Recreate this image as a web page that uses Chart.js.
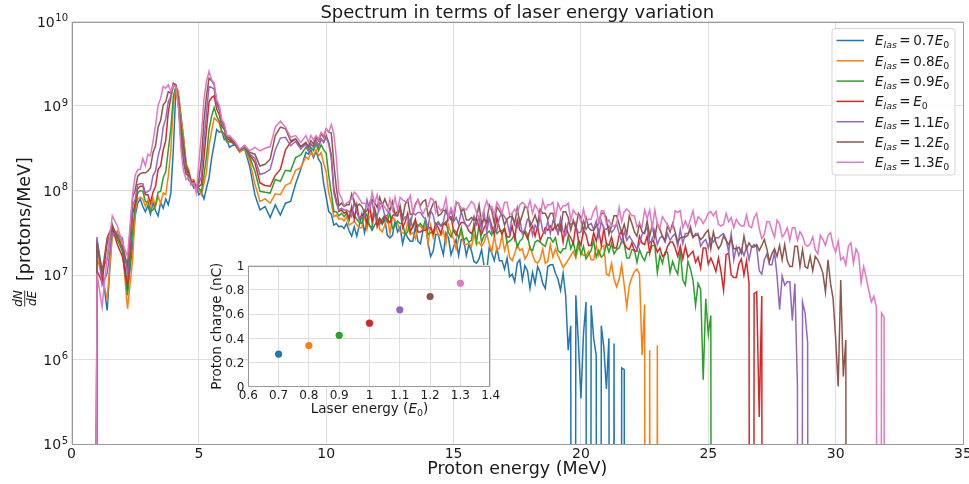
<!DOCTYPE html>
<html><head><meta charset="utf-8">
<script src="https://cdn.jsdelivr.net/npm/chart.js@4"></script>
<style>
html,body{margin:0;padding:0;background:#fff;}
#wrap{position:relative;width:969px;height:484px;overflow:hidden;}
#main{position:absolute;left:0;top:0;width:969px;height:484px;}
#inset{position:absolute;left:180px;top:255px;width:320px;height:165px;}
</style></head><body>
<div id="wrap"><canvas id="main" width="969" height="484"></canvas><canvas id="inset" width="320" height="165"></canvas></div>
<script>
// ---------- DATA ----------
// Proton energy bins (MeV)
const energyMeV = [
0.8,1.0,1.2,1.4,1.6,1.8,2.0,2.2,2.4,
2.5,2.6,2.7,2.8,2.9,3.0,3.1,3.2,3.3,3.4,3.5,3.6,3.7,3.8,3.9,4.0,4.1,4.2,4.3,4.4,4.5,4.6,4.7,4.8,4.9,5.0,5.1,5.2,5.3,5.4,5.5,5.6,5.7,5.8,5.9,6.0,6.1,6.2,
6.4,6.6,6.8,7.0,7.2,7.4,7.6,7.8,8.0,8.2,8.4,8.6,8.8,9.0,9.2,
9.3,9.4,9.5,9.6,9.7,9.8,9.9,10.0,10.1,10.2,10.3,10.4,10.5,10.6,10.7,10.8,10.9,
11.0,11.1,11.2,11.3,11.4,11.5,11.6,11.7,11.8,11.9,
12.0,12.1,12.2,12.3,12.4,12.5,12.6,12.7,12.8,12.9,
13.0,13.1,13.2,13.3,13.4,13.5,13.6,13.7,13.8,13.9,
14.0,14.1,14.2,14.3,14.4,14.5,14.6,14.7,14.8,14.9,
15.0,15.1,15.2,15.3,15.4,15.5,15.6,15.7,15.8,15.9,
16.0,16.1,16.2,16.3,16.4,16.5,16.6,16.7,16.8,16.9,
17.0,17.1,17.2,17.3,17.4,17.5,17.6,17.7,17.8,17.9,
18.0,18.1,18.2,18.3,18.4,18.5,18.6,18.7,18.8,18.9,
19.0,19.1,19.2,19.3,19.4,19.5,19.6,19.7,19.8,19.9,
20.0,20.1,20.2,20.3,20.4,20.5,20.6,20.7,20.8,20.9,
21.0,21.1,21.2,21.3,21.4,21.5,21.6,21.7,21.8,21.9,
22.0,22.1,22.2,22.3,22.4,22.5,22.6,22.7,22.8,22.9,
23.0,23.1,23.2,23.3,23.4,23.5,23.6,23.7,23.8,23.9,
24.0,24.1,24.2,24.3,24.4,24.5,24.6,24.7,24.8,24.9,
25.0,25.1,25.2,25.3,25.4,25.5,25.6,25.7,25.8,25.9,
26.0,26.1,26.2,26.3,26.4,26.5,26.6,26.7,26.8,26.9,
27.0,27.1,27.2,27.3,27.4,27.5,27.6,27.7,27.8,27.9,
28.0,28.1,28.2,28.3,28.4,28.5,28.6,28.7,28.8,28.9,
29.0,29.1,29.2,29.3,29.4,29.5,29.6,29.7,29.8,29.9,
30.0,30.1,30.2,30.3,30.4,30.5,30.6,30.7,30.8,30.9,
31.0,31.1,31.2,31.3,31.4,31.5,31.6,31.7,31.8,31.9,
32.0,32.1
];

// Spectra: log10(dN/dE) x 100, one value per energy bin; 0 = no protons
const spec07 = [
0,742,705,658,752,748,738,682,735,
770,785,790,781,775,782,772,786,776,770,786,779,790,783,797,850,922,912,888,862,832,812,813,803,806,795,798,790,803,815,838,855,872,869,870,860,861,851,
855,846,849,828,795,777,781,768,783,771,785,787,808,825,845,
843,848,839,846,837,832,808,792,775,772,759,761,757,758,755,761,752,
746,757,746,759,772,750,763,759,753,759,
764,766,760,766,747,744,747,764,751,757,
737,750,744,740,740,757,740,737,753,759,
737,722,728,748,748,735,724,750,744,724,
733,742,723,742,742,723,736,729,716,714,
719,730,710,704,732,726,717,732,717,717,
707,720,698,701,692,714,718,694,711,705,
684,703,690,710,703,690,684,710,712,712,
702,695,682,702,676,611,640,0,676,620,
554,630,668,0,664,625,605,0,640,614,
565,625,0,619,0,0,590,588,0
];
const spec08 = [
0,722,698,672,745,752,730,660,718,
775,790,792,790,781,789,777,791,781,793,785,797,795,817,848,902,924,917,886,862,832,825,812,813,803,802,795,808,822,853,870,886,883,880,868,866,857,858,
855,845,850,835,808,787,790,785,796,795,806,809,824,827,840,
837,845,841,848,841,845,832,822,797,785,769,771,766,767,764,769,759,
761,764,759,756,756,771,754,769,771,776,
769,754,751,759,769,749,769,764,761,751,
750,748,763,748,750,743,758,758,753,760,
737,759,744,757,747,747,752,737,759,749,
743,731,743,751,736,736,738,733,748,736,
739,734,739,749,737,727,747,729,732,747,
729,739,721,717,725,736,729,731,719,724,
734,724,716,714,719,731,714,716,736,721,
731,723,716,709,713,718,723,728,720,733,
728,723,723,728,718,718,735,723,733,735,
701,699,714,695,686,695,712,688,662,688,
697,704,707,701,605,665,0,611,0,0,
617,0
];
const spec09 = [
0,732,708,718,760,742,728,676,752,
780,797,800,799,787,786,775,777,783,798,799,815,822,848,873,912,923,910,878,855,829,823,809,811,801,803,799,818,840,872,888,898,888,882,870,867,858,858,
856,847,851,839,823,799,798,797,813,811,824,823,839,842,851,
847,851,847,855,847,854,848,844,818,797,775,775,770,773,769,773,765,
778,771,766,762,761,776,770,758,756,778,
768,760,766,771,763,773,755,758,764,761,
761,748,751,766,756,763,758,761,756,766,
748,750,750,760,763,758,760,763,750,745,
754,751,744,756,741,744,739,741,761,739,
759,739,747,749,752,747,757,749,752,752,
755,738,740,743,748,733,740,743,753,748,
731,729,739,741,739,736,734,744,744,739,
744,729,726,731,731,746,731,739,724,741,
724,734,719,724,729,741,721,729,721,724,
737,727,737,725,730,732,740,737,720,720,
730,730,715,730,722,717,727,727,735,735,
703,723,714,727,727,703,716,707,701,729,
694,688,716,707,694,664,690,683,576,672,
630,652,0
];
const spec10 = [
0,705,692,738,756,736,722,688,772,
785,802,805,805,795,795,785,798,805,825,829,848,859,893,910,926,923,902,868,848,825,821,809,811,802,805,807,838,872,905,910,912,896,890,876,872,862,860,
855,848,853,842,833,809,806,805,818,825,848,857,861,852,855,
851,855,852,859,852,861,857,865,857,842,802,788,775,777,773,775,767,
781,766,783,766,771,773,761,783,763,778,
757,767,762,770,765,762,770,772,775,777,
756,763,773,751,758,766,751,751,753,753,
756,756,749,761,756,749,761,759,769,769,
752,747,757,762,762,759,752,749,754,767,
756,748,756,761,768,758,748,768,756,748,
755,745,745,758,743,765,753,750,750,743,
753,758,746,758,741,748,756,753,758,753,
759,749,759,739,759,749,744,737,759,742,
735,753,748,735,735,750,740,753,735,755,
737,735,745,732,732,747,752,737,732,730,
738,728,728,746,738,736,746,726,743,736,
727,732,722,724,734,739,739,732,722,734,
719,734,721,725,728,715,721,708,732,732,
713,720,713,704,720,704,682,724,726,700,
697,697,713,719,700,717,690,0,678,680,
532,675,0
];
const spec11 = [
0,745,688,702,750,748,744,700,782,
790,807,808,808,797,799,801,818,823,841,852,875,885,905,911,924,923,900,863,843,822,819,807,809,799,808,817,858,892,923,922,920,902,895,879,875,862,863,
856,847,853,843,838,819,821,825,848,862,863,853,858,849,855,
847,855,851,858,853,861,857,863,855,838,797,785,777,779,777,777,775,
769,787,774,767,769,769,789,777,789,769,
768,785,783,770,770,778,780,770,770,778,
764,769,769,759,774,771,774,774,769,766,
756,776,771,756,761,758,763,778,766,778,
763,768,760,775,765,758,758,763,770,760,
768,753,773,751,768,751,756,753,768,773,
769,764,749,771,759,756,766,749,754,766,
764,747,759,754,769,752,749,764,749,764,
760,750,767,752,747,762,760,762,757,750,
751,764,754,759,761,754,764,746,764,754,
754,758,750,754,761,749,739,751,741,746,
741,736,730,737,748,751,756,738,741,753,
736,744,746,739,749,741,746,749,734,754,
737,749,749,752,744,749,749,734,739,742,
732,744,739,744,744,747,749,742,727,749,
718,733,723,731,723,733,718,733,736,733,
705,701,718,725,712,712,727,699,659,699,
688,692,692,646,690,568,0,668,655,620,
0
];
const spec12 = [
0,738,702,744,758,746,732,712,792,
800,817,820,821,821,823,827,845,853,875,883,901,905,917,915,927,925,902,858,833,819,818,807,809,799,813,837,883,912,933,930,925,905,898,882,877,863,863,
856,848,853,845,843,829,831,837,865,875,873,859,861,852,857,
852,859,855,863,859,867,863,873,869,868,832,803,782,785,781,783,783,
796,786,781,784,781,774,776,784,789,786,
780,792,782,790,782,777,787,772,770,782,
767,784,789,772,772,784,789,782,787,789,
770,777,785,787,770,772,777,775,770,765,
765,785,785,775,778,765,765,768,765,768,
783,761,766,763,783,776,761,781,776,771,
759,766,769,769,761,779,761,771,781,779,
758,763,771,761,778,773,773,766,773,773,
755,760,753,775,775,768,753,765,755,773,
768,751,768,756,753,753,758,761,773,773,
768,748,758,770,770,760,750,760,748,770,
761,751,746,761,751,749,764,746,759,744,
761,754,746,741,759,751,761,751,739,744,
745,745,747,757,745,747,747,742,745,750,
753,731,751,738,731,736,746,741,736,743,
731,731,733,726,746,731,738,733,733,736,
729,735,742,731,716,725,731,722,735,718,
736,717,710,710,734,734,710,730,710,708,
722,705,722,718,711,702,680,718,690,672,
625,568,694,580,623,0
];
const spec13 = [
0,702,662,722,770,758,738,722,796,
818,825,825,838,829,843,841,858,877,901,909,923,921,925,917,925,923,898,847,823,813,815,807,809,797,833,867,908,929,941,931,927,907,901,884,879,865,865,
859,849,853,847,851,847,850,852,875,882,875,863,865,857,865,
857,865,860,865,861,869,865,873,869,878,867,838,797,791,782,785,787,
790,798,795,790,785,785,783,778,798,785,
795,777,785,780,775,790,777,792,777,792,
789,787,787,794,774,782,789,779,772,779,
781,791,789,774,781,776,779,791,769,779,
772,787,784,779,779,777,782,787,784,774,
768,768,778,788,778,781,771,786,781,773,
786,786,771,773,778,773,783,786,783,778,
788,773,783,778,768,788,778,783,783,786,
767,785,777,782,782,785,765,777,772,770,
763,778,763,766,766,776,781,761,776,776,
760,765,758,758,760,780,763,775,778,775,
770,770,757,761,757,777,767,777,755,777,
759,756,769,764,759,754,756,776,774,776,
756,764,756,766,776,759,769,766,761,766,
773,775,770,775,760,758,760,773,763,768,
756,766,761,758,758,771,758,756,768,773,
755,743,748,763,763,753,745,765,760,745,
749,756,741,756,756,741,751,746,736,734,
737,745,730,725,747,742,735,747,750,735,
727,740,718,721,712,734,738,714,731,725,
691,710,697,682,668,675,662,0,655,650,
0
];

// Laser energy factors (legend) and inset data
const laserFactors = ['0.7', '0.8', '0.9', '1', '1.1', '1.2', '1.3'];
const laserEnergy = [0.7, 0.8, 0.9, 1.0, 1.1, 1.2, 1.3];
const protonCharge = [0.27, 0.34, 0.425, 0.525, 0.635, 0.745, 0.855];

// Tick values
const xTickValues = [0, 5, 10, 15, 20, 25, 30, 35];
const yTickValues = [1e5, 1e6, 1e7, 1e8, 1e9, 1e10];
const insetXTicks = [0.6, 0.7, 0.8, 0.9, 1.0, 1.1, 1.2, 1.3, 1.4];
const insetXLabels = ['0.6', '0.7', '0.8', '0.9', '1', '1.1', '1.2', '1.3', '1.4'];
const insetYTicks = [0, 0.2, 0.4, 0.6, 0.8, 1.0];
const insetYLabels = ['0', '0.2', '0.4', '0.6', '0.8', '1'];

// ---------- STYLE ----------
const seriesColors = ['#1f77b4', '#ff7f0e', '#2ca02c', '#d62728', '#9467bd', '#8c564b', '#e377c2'];
const FONT = '"DejaVu Sans", sans-serif';
const TXT = '#1a1a1a';
const GRID = '#dedede';
const SPINE = '#9a9a9a';

const spectra = [spec07, spec08, spec09, spec10, spec11, spec12, spec13];

const datasets = spectra.map((vals, i) => ({
  label: laserFactors[i],
  data: vals.map((v, j) => ({ x: energyMeV[j], y: v === 0 ? 1e-20 : Math.pow(10, v / 100) })),
  borderColor: seriesColors[i],
  backgroundColor: seriesColors[i],
  borderWidth: 1.5,
  pointRadius: 0,
  fill: false,
  tension: 0,
  order: spectra.length - 1 - i
}));

// draws "E_las = fE_0" math-like text
function drawMathLabel(ctx, x, y, factor, size) {
  const sub = size * 0.7;
  const parts = [
    { t: 'E', f: 'italic ' + size + 'px ' + FONT, dy: 0 },
    { t: 'las', f: 'italic ' + sub + 'px ' + FONT, dy: size * 0.22 },
    { t: '=', f: size + 'px ' + FONT, dy: 0, gap: 2.5, gapAfter: 2.5 }
  ];
  if (factor !== '1') parts.push({ t: factor, f: size + 'px ' + FONT, dy: 0 });
  parts.push({ t: 'E', f: 'italic ' + size + 'px ' + FONT, dy: 0 });
  parts.push({ t: '0', f: sub + 'px ' + FONT, dy: size * 0.22 });
  let cx = x;
  ctx.textAlign = 'left';
  ctx.textBaseline = 'alphabetic';
  parts.forEach(p => {
    if (p.gap) cx += p.gap;
    ctx.font = p.f;
    ctx.fillText(p.t, cx, y + p.dy);
    cx += ctx.measureText(p.t).width;
    if (p.gapAfter) cx += p.gapAfter;
  });
}

const mainDeco = {
  id: 'mainDeco',
  afterDraw(chart) {
    const ctx = chart.ctx, a = chart.chartArea, xs = chart.scales.x, ys = chart.scales.y;
    ctx.save();
    // spines
    ctx.strokeStyle = SPINE; ctx.lineWidth = 1;
    ctx.strokeRect(Math.round(a.left) + 0.5, Math.round(a.top) + 0.5, Math.round(a.right - a.left) - 1, Math.round(a.bottom - a.top) - 1);
    ctx.fillStyle = TXT;
    // x tick labels
    ctx.font = '14px ' + FONT; ctx.textAlign = 'center'; ctx.textBaseline = 'alphabetic';
    xTickValues.forEach(v => ctx.fillText(String(v), xs.getPixelForValue(v), a.bottom + 13.5));
    // y tick labels 10^n
    yTickValues.forEach(v => {
      const e = String(Math.round(Math.log10(v)));
      const y = ys.getPixelForValue(v);
      const right = a.left - 3.5;
      ctx.textAlign = 'right';
      ctx.font = '10px ' + FONT;
      const ew = ctx.measureText(e).width;
      ctx.fillText(e, right, y - 0.5);
      ctx.font = '14px ' + FONT;
      ctx.fillText('10', right - ew - 0.5, y + 5);
    });
    // title
    ctx.textAlign = 'center';
    ctx.font = '18px ' + FONT;
    ctx.fillText('Spectrum in terms of laser energy variation', (a.left + a.right) / 2, 18);
    // x label
    ctx.font = '17.5px ' + FONT;
    ctx.fillText('Proton energy (MeV)', (a.left + a.right) / 2, 474);
    // y label
    ctx.save();
    ctx.translate(30, 281); ctx.rotate(-Math.PI / 2);
    ctx.textAlign = 'left'; ctx.font = '17.5px ' + FONT;
    ctx.fillText('[protons/MeV]', 0, 0);
    ctx.restore();
    ctx.save();
    ctx.rotate(-Math.PI / 2);
    ctx.textAlign = 'center'; ctx.font = 'italic 12px ' + FONT;
    ctx.fillText('dN', -298.5, 22);
    ctx.fillText('dE', -298.5, 35.5);
    ctx.fillRect(-306.5, 24.3, 16, 0.9);
    ctx.restore();
    // legend
    const lx = 832, ly = 28.5, lw = 123, lh = 146.5, r = 3;
    ctx.beginPath();
    ctx.moveTo(lx + r, ly); ctx.lineTo(lx + lw - r, ly); ctx.arcTo(lx + lw, ly, lx + lw, ly + r, r);
    ctx.lineTo(lx + lw, ly + lh - r); ctx.arcTo(lx + lw, ly + lh, lx + lw - r, ly + lh, r);
    ctx.lineTo(lx + r, ly + lh); ctx.arcTo(lx, ly + lh, lx, ly + lh - r, r);
    ctx.lineTo(lx, ly + r); ctx.arcTo(lx, ly, lx + r, ly, r); ctx.closePath();
    ctx.fillStyle = 'rgba(255,255,255,0.85)'; ctx.fill();
    ctx.strokeStyle = '#d4d4d4'; ctx.lineWidth = 1; ctx.stroke();
    laserFactors.forEach((f, i) => {
      const cy = 40.5 + i * 20.3;
      ctx.strokeStyle = seriesColors[i]; ctx.lineWidth = 1.5;
      ctx.beginPath(); ctx.moveTo(836.5, cy); ctx.lineTo(864, cy); ctx.stroke();
      ctx.fillStyle = TXT;
      drawMathLabel(ctx, 875, cy + 4.8, f, 13.5);
    });
    ctx.restore();
  }
};

new Chart(document.getElementById('main'), {
  type: 'line',
  data: { datasets },
  options: {
    responsive: false, animation: false, devicePixelRatio: 1,
    layout: { padding: { left: 71.5, right: 6, top: 21.5, bottom: 40 } },
    plugins: { legend: { display: false }, tooltip: { enabled: false } },
    scales: {
      x: {
        type: 'linear', min: 0, max: 35,
        ticks: { display: false, stepSize: 5 },
        grid: { color: GRID, lineWidth: 1, drawTicks: false },
        border: { display: false },
        afterFit: s => { s.height = 0; }
      },
      y: {
        type: 'logarithmic', min: 1e5, max: 1e10,
        ticks: { display: false },
        grid: { color: GRID, lineWidth: 1, drawTicks: false },
        border: { display: false },
        afterBuildTicks: s => { s.ticks = yTickValues.map(v => ({ value: v })); },
        afterFit: s => { s.width = 0; }
      }
    }
  },
  plugins: [mainDeco]
});

// ---------- INSET ----------
const insetBg = {
  id: 'insetBg',
  beforeDraw(chart) {
    const ctx = chart.ctx, a = chart.chartArea;
    ctx.save(); ctx.fillStyle = '#ffffff';
    ctx.fillRect(a.left, a.top, a.right - a.left, a.bottom - a.top);
    ctx.restore();
  }
};
const insetDeco = {
  id: 'insetDeco',
  afterDraw(chart) {
    const ctx = chart.ctx, a = chart.chartArea, xs = chart.scales.x, ys = chart.scales.y;
    ctx.save();
    ctx.strokeStyle = SPINE; ctx.lineWidth = 1;
    ctx.strokeRect(Math.round(a.left) + 0.5, Math.round(a.top) + 0.5, Math.round(a.right - a.left) - 1, Math.round(a.bottom - a.top) - 1);
    ctx.fillStyle = TXT;
    ctx.font = '12px ' + FONT; ctx.textBaseline = 'alphabetic';
    ctx.textAlign = 'center';
    insetXTicks.forEach((v, i) => ctx.fillText(insetXLabels[i], xs.getPixelForValue(v), a.bottom + 11.8));
    ctx.textAlign = 'right';
    insetYTicks.forEach((v, i) => ctx.fillText(insetYLabels[i], a.left - 4, ys.getPixelForValue(v) + 4.3));
    // x label: Laser energy (E_0)
    const size = 13.5;
    ctx.textAlign = 'left';
    const p1 = 'Laser energy (';
    ctx.font = size + 'px ' + FONT; const w1 = ctx.measureText(p1).width;
    ctx.font = 'italic ' + size + 'px ' + FONT; const w2 = ctx.measureText('E').width;
    ctx.font = (size * 0.7) + 'px ' + FONT; const w3 = ctx.measureText('0').width;
    ctx.font = size + 'px ' + FONT; const w4 = ctx.measureText(')').width;
    let x0 = (a.left + a.right) / 2 - (w1 + w2 + w3 + w4) / 2;
    const by = 158;
    ctx.fillText(p1, x0, by); x0 += w1;
    ctx.font = 'italic ' + size + 'px ' + FONT; ctx.fillText('E', x0, by); x0 += w2;
    ctx.font = (size * 0.7) + 'px ' + FONT; ctx.fillText('0', x0, by + 3); x0 += w3;
    ctx.font = size + 'px ' + FONT; ctx.fillText(')', x0, by);
    // y label
    ctx.save();
    ctx.translate(41, (a.top + a.bottom) / 2); ctx.rotate(-Math.PI / 2);
    ctx.textAlign = 'center'; ctx.font = size + 'px ' + FONT;
    ctx.fillText('Proton charge (nC)', 0, 0);
    ctx.restore();
    ctx.restore();
  }
};

new Chart(document.getElementById('inset'), {
  type: 'scatter',
  data: {
    datasets: [{
      data: laserEnergy.map((x, i) => ({ x, y: protonCharge[i] })),
      pointBackgroundColor: seriesColors,
      pointBorderColor: seriesColors,
      pointBorderWidth: 0,
      pointRadius: 3.6
    }]
  },
  options: {
    responsive: false, animation: false, devicePixelRatio: 1,
    layout: { padding: { left: 68.3, right: 9.3, top: 10.7, bottom: 33.3 } },
    plugins: { legend: { display: false }, tooltip: { enabled: false } },
    scales: {
      x: {
        type: 'linear', min: 0.6, max: 1.4,
        ticks: { display: false, stepSize: 0.1 },
        grid: { color: GRID, drawTicks: false },
        border: { display: false },
        afterFit: s => { s.height = 0; }
      },
      y: {
        type: 'linear', min: 0, max: 1,
        ticks: { display: false, stepSize: 0.2 },
        grid: { color: GRID, drawTicks: false },
        border: { display: false },
        afterFit: s => { s.width = 0; }
      }
    }
  },
  plugins: [insetBg, insetDeco]
});
</script>
</body></html>
